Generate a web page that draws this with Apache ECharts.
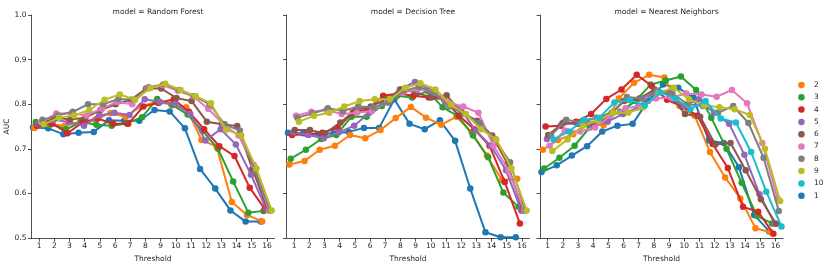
<!DOCTYPE html>
<html>
<head>
<meta charset="utf-8">
<script src="https://cdn.jsdelivr.net/npm/echarts@6/dist/echarts.min.js"></script>
<style>html,body{margin:0;padding:0;background:#fff}#c{width:830px;height:268px}</style>
</head>
<body>
<div id="c"></div>
<script>
const thresholds = [1,2,3,4,5,6,7,8,9,10,11,12,13,14,15,16];
const hues = ['1','2','3','4','5','6','7','8','9','10'];
const legendOrder = ['2','3','4','5','6','7','8','9','10','1'];
const models = ['Random Forest','Decision Tree','Nearest Neighbors'];
const yTicks = [0.5,0.6,0.7,0.8,0.9,1.0];
const colors = ['#1f77b4','#ff7f0e','#2ca02c','#d62728','#9467bd','#8c564b','#e377c2','#7f7f7f','#bcbd22','#17becf'];

// Random Forest, hue 1..9 (hue 10 absent)
const rf1 = [0.748,0.746,0.733,0.736,0.738,0.764,0.763,0.763,0.787,0.784,0.746,0.655,0.611,0.562,0.537,0.537];
const rf2 = [0.747,0.755,0.752,0.760,0.765,0.780,0.772,0.795,0.805,0.800,0.793,0.720,0.705,0.581,0.552,0.537];
const rf3 = [0.760,0.755,0.744,0.760,0.754,0.752,0.757,0.771,0.812,0.798,0.777,0.740,0.700,0.627,0.557,0.561];
const rf4 = [0.752,0.757,0.735,0.759,0.768,0.756,0.756,0.795,0.803,0.811,0.783,0.744,0.706,0.684,0.613,0.565];
const rf5 = [0.755,0.765,0.760,0.752,0.775,0.781,0.776,0.811,0.805,0.800,0.778,0.719,0.744,0.710,0.642,0.565];
const rf6 = [0.755,0.770,0.766,0.770,0.787,0.800,0.810,0.835,0.835,0.814,0.807,0.761,0.755,0.751,0.655,0.565];
const rf7 = [0.760,0.779,0.780,0.775,0.790,0.805,0.800,0.836,0.843,0.830,0.818,0.790,0.755,0.730,0.664,0.562];
const rf8 = [0.765,0.775,0.783,0.800,0.800,0.812,0.810,0.838,0.845,0.832,0.818,0.800,0.755,0.741,0.650,0.562];
const rf9 = [0.755,0.770,0.775,0.787,0.810,0.822,0.810,0.836,0.846,0.832,0.818,0.802,0.743,0.730,0.656,0.562];

// Decision Tree, hue 1..9
const dt1 = [0.736,0.735,0.733,0.735,0.738,0.747,0.747,0.811,0.756,0.744,0.764,0.718,0.611,0.513,0.502,0.502];
const dt2 = [0.665,0.673,0.698,0.707,0.731,0.724,0.742,0.769,0.794,0.770,0.754,0.772,0.737,0.685,0.630,0.633];
const dt3 = [0.678,0.698,0.722,0.731,0.772,0.772,0.796,0.819,0.815,0.830,0.793,0.774,0.730,0.681,0.602,0.570];
const dt4 = [0.731,0.733,0.736,0.748,0.781,0.789,0.819,0.824,0.819,0.815,0.811,0.774,0.744,0.707,0.626,0.533];
const dt5 = [0.737,0.731,0.724,0.737,0.752,0.781,0.804,0.833,0.850,0.833,0.804,0.789,0.741,0.707,0.652,0.562];
const dt6 = [0.742,0.742,0.735,0.759,0.787,0.795,0.811,0.833,0.826,0.815,0.820,0.781,0.763,0.730,0.667,0.562];
const dt7 = [0.774,0.783,0.787,0.778,0.781,0.785,0.804,0.826,0.833,0.830,0.804,0.795,0.781,0.707,0.652,0.562];
const dt8 = [0.770,0.779,0.791,0.785,0.795,0.793,0.804,0.830,0.839,0.826,0.795,0.778,0.758,0.722,0.670,0.562];
const dt9 = [0.761,0.774,0.781,0.795,0.807,0.811,0.811,0.837,0.847,0.833,0.800,0.778,0.744,0.721,0.656,0.562];

// Nearest Neighbors, hue 1..10
const nn1 = [0.648,0.663,0.685,0.706,0.739,0.752,0.756,0.807,0.844,0.837,0.815,0.719,0.713,0.659,0.552,0.515];
const nn2 = [0.698,0.720,0.733,0.756,0.753,0.813,0.848,0.866,0.860,0.796,0.774,0.693,0.636,0.589,0.522,0.513];
const nn3 = [0.656,0.680,0.707,0.748,0.767,0.783,0.807,0.844,0.853,0.862,0.832,0.770,0.700,0.624,0.550,0.533];
const nn4 = [0.750,0.752,0.761,0.778,0.812,0.833,0.866,0.841,0.810,0.795,0.774,0.711,0.657,0.570,0.559,0.510];
const nn5 = [0.722,0.756,0.756,0.752,0.761,0.778,0.793,0.826,0.826,0.796,0.811,0.781,0.756,0.687,0.598,0.532];
const nn6 = [0.731,0.759,0.756,0.756,0.774,0.807,0.813,0.833,0.822,0.778,0.772,0.710,0.713,0.652,0.587,0.532];
const nn7 = [0.707,0.741,0.739,0.748,0.774,0.791,0.796,0.813,0.815,0.824,0.822,0.817,0.832,0.802,0.713,0.589];
const nn8 = [0.730,0.765,0.759,0.770,0.781,0.816,0.813,0.830,0.824,0.800,0.796,0.781,0.796,0.758,0.680,0.561];
const nn9 = [0.695,0.721,0.752,0.763,0.781,0.781,0.793,0.826,0.837,0.811,0.798,0.793,0.789,0.776,0.700,0.583];
const nn10 = [0.721,0.739,0.765,0.770,0.804,0.809,0.798,0.827,0.813,0.789,0.807,0.768,0.759,0.693,0.604,0.526];

const panelData = [
  [rf1,rf2,rf3,rf4,rf5,rf6,rf7,rf8,rf9,null],
  [dt1,dt2,dt3,dt4,dt5,dt6,dt7,dt8,dt9,null],
  [nn1,nn2,nn3,nn4,nn5,nn6,nn7,nn8,nn9,nn10]
];

const gridLefts = [31.5, 286.5, 540];
const gridW = 243, gridTop = 15, gridH = 225;
const dodgeWidth = 0.8;
const txt = '#262626';
const font = 'DejaVu Sans';
const fs = 7.5;

const grids = [], xAxes = [], yAxes = [], series = [], titles = [];
gridLefts.forEach((l, p) => {
  grids.push({left: l, top: gridTop, width: gridW, height: gridH, containLabel: false});
  titles.push({text: 'model = ' + models[p], left: l + gridW / 2, top: 3, textAlign: 'center',
    textStyle: {fontFamily: font, fontSize: fs, fontWeight: 'normal', color: txt}});
  xAxes.push({
    type: 'value', gridIndex: p, min: 0.5, max: thresholds.length + 0.5,
    name: 'Threshold', nameLocation: 'middle', nameGap: 13,
    nameTextStyle: {fontFamily: font, fontSize: fs, color: txt},
    splitLine: {show: false},
    axisLine: {lineStyle: {color: txt, width: 0.8}},
    axisTick: {customValues: thresholds, length: 3.5, lineStyle: {color: txt, width: 0.8}},
    axisLabel: {customValues: thresholds, margin: 4, fontFamily: font, fontSize: fs, color: txt}
  });
  yAxes.push({
    type: 'value', gridIndex: p, min: 0.5, max: 1.0, interval: 0.1,
    name: p === 0 ? 'AUC' : '', nameLocation: 'middle', nameGap: 20, nameRotate: 90,
    nameTextStyle: {fontFamily: font, fontSize: fs, color: txt},
    splitLine: {show: false},
    axisLine: {show: true, lineStyle: {color: txt, width: 0.8}},
    axisTick: {show: true, length: 3.5, lineStyle: {color: txt, width: 0.8}},
    axisLabel: {show: p === 0, margin: 5, fontFamily: font, fontSize: fs, color: txt,
      formatter: v => v.toFixed(1)}
  });
  panelData[p].forEach((vals, i) => {
    if (!vals) return;
    const off = -dodgeWidth / 2 + i * dodgeWidth / (hues.length - 1);
    series.push({
      name: hues[i], type: 'line', xAxisIndex: p, yAxisIndex: p,
      data: vals.map((v, k) => [thresholds[k] + off, v]),
      symbol: 'circle', symbolSize: 6.5, showSymbol: true,
      itemStyle: {color: colors[i]},
      lineStyle: {color: colors[i], width: 2},
      z: 2 + i, animation: false
    });
  });
});

const chart = echarts.init(document.getElementById('c'), null, {renderer: 'canvas'});
chart.setOption({
  animation: false,
  backgroundColor: '#fff',
  title: titles,
  grid: grids,
  xAxis: xAxes,
  yAxis: yAxes,
  legend: {
    data: legendOrder, orient: 'vertical', left: 793.2, top: 76,
    icon: 'circle', itemWidth: 15, itemHeight: 6.5, itemGap: 4.3,
    textStyle: {fontFamily: font, fontSize: fs, color: txt, lineHeight: 6.5, padding: [0,0,0,0]},
    itemStyle: {borderWidth: 0}
  },
  series: series
});
</script>
</body>
</html>
